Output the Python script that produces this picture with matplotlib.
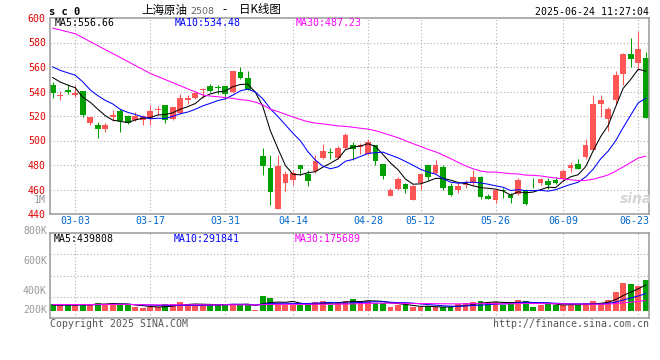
#!/usr/bin/env python3
import numpy as np
import pandas as pd
import matplotlib
matplotlib.use("Agg")
import matplotlib.pyplot as plt
from matplotlib import transforms

# ─── data ────────────────────────────────────────────────────────────────────
DATES = ["02-26", "02-27", "02-28",
         "03-03", "03-04", "03-05", "03-06", "03-07", "03-10", "03-11", "03-12", "03-13", "03-14",
         "03-17", "03-18", "03-19", "03-20", "03-21", "03-24", "03-25", "03-26", "03-27", "03-28",
         "03-31", "04-01", "04-02", "04-03", "04-07", "04-08", "04-09", "04-10", "04-11",
         "04-14", "04-15", "04-16", "04-17", "04-18", "04-21", "04-22", "04-23", "04-24", "04-25",
         "04-28", "04-29", "04-30", "05-06", "05-07", "05-08", "05-09",
         "05-12", "05-13", "05-14", "05-15", "05-16", "05-19", "05-20", "05-21", "05-22", "05-23",
         "05-26", "05-27", "05-28", "05-29", "05-30", "06-03", "06-04", "06-05", "06-06",
         "06-09", "06-10", "06-11", "06-12", "06-13", "06-16", "06-17", "06-18", "06-19", "06-20",
         "06-23", "06-24"]

OPEN = [545.0, 536.7, 541.6, 537.0, 540.0, 514.5, 513.0, 509.5, 519.0, 524.0,
        519.8, 516.5, 517.0, 518.0, 525.0, 528.8, 517.4, 522.5, 533.0, 534.8,
        541.6, 544.3, 543.2, 544.3, 539.7, 556.0, 551.0, 509.8, 487.0, 477.3,
        444.0, 465.6, 467.8, 479.8, 472.7, 475.0, 486.0, 490.7, 485.7, 494.2,
        496.0, 494.7, 489.3, 496.0, 480.6, 454.7, 460.4, 464.2, 451.2, 465.3,
        479.8, 473.8, 478.0, 462.6, 459.3, 463.4, 465.3, 470.0, 454.4, 451.2,
        459.3, 455.8, 456.6, 459.3, 463.0, 465.3, 466.7, 468.0, 468.3, 477.6,
        481.0, 486.6, 492.0, 530.2, 517.4, 533.0, 554.0, 571.0, 563.0, 567.5]
HIGH = [548.0, 540.2, 546.5, 545.0, 540.5, 519.5, 515.0, 514.0, 525.0, 525.5,
        521.0, 523.0, 520.6, 529.0, 528.0, 529.0, 527.0, 537.8, 537.0, 540.0,
        542.5, 546.0, 545.4, 544.5, 556.8, 559.6, 556.6, 509.8, 494.0, 488.0,
        488.5, 475.0, 475.7, 480.3, 475.7, 488.0, 497.0, 494.0, 495.3, 506.2,
        498.8, 498.3, 501.0, 496.5, 481.0, 461.0, 470.0, 465.0, 463.5, 473.0,
        480.3, 484.0, 480.3, 465.3, 465.0, 468.0, 475.7, 471.0, 456.6, 460.7,
        461.2, 457.4, 469.0, 460.7, 469.0, 469.7, 469.4, 470.0, 477.0, 482.5,
        485.0, 501.0, 537.0, 537.0, 527.0, 556.6, 571.2, 584.0, 589.5, 572.4]
LOW = [535.0, 533.4, 537.8, 535.5, 519.0, 512.5, 502.0, 507.0, 515.7, 507.0,
       513.8, 516.0, 512.4, 512.4, 520.6, 514.6, 517.0, 521.7, 530.0, 534.0,
       535.0, 539.7, 538.3, 534.2, 539.0, 550.6, 541.0, 509.8, 472.0, 447.6,
       443.8, 458.8, 464.0, 471.6, 463.0, 473.8, 484.7, 484.7, 484.7, 493.4,
       483.8, 489.3, 488.5, 480.3, 468.6, 454.7, 460.0, 457.0, 451.2, 459.3,
       467.5, 473.0, 460.0, 455.0, 457.2, 461.0, 463.4, 452.5, 452.0, 449.0,
       453.0, 449.0, 455.2, 447.0, 461.2, 463.4, 460.7, 464.8, 467.0, 474.3,
       476.5, 484.7, 492.0, 519.2, 508.0, 529.4, 545.0, 560.0, 557.4, 518.0]
CLOSE = [539.1, 537.5, 539.7, 539.0, 521.0, 519.0, 509.5, 512.7, 521.0, 515.7,
         514.6, 519.8, 519.8, 524.0, 526.0, 516.5, 527.0, 534.3, 534.5, 538.6,
         542.4, 540.2, 542.7, 537.8, 556.6, 551.4, 541.4, 509.8, 479.0, 458.0,
         479.0, 472.4, 473.8, 476.5, 467.0, 483.0, 491.2, 489.6, 494.2, 504.3,
         493.4, 496.1, 498.8, 483.3, 471.0, 459.3, 468.3, 460.4, 462.6, 472.4,
         470.0, 479.8, 461.0, 455.2, 462.6, 466.1, 470.0, 454.0, 452.2, 459.3,
         458.5, 453.0, 467.5, 448.0, 462.5, 468.3, 463.4, 465.3, 475.0, 479.8,
         476.8, 496.1, 530.2, 532.9, 525.5, 553.3, 571.0, 566.4, 574.6, 518.0]
# volume, thousands of lots
VOLUME = [117, 100, 102, 98, 119, 115, 139, 116, 137, 101,
          99, 61, 58, 62, 60, 118, 116, 156, 101, 99,
          100, 102, 118, 116, 119, 100, 117, 25, 246, 224,
          139, 101, 99, 102, 117, 156, 173, 100, 156, 173,
          207, 156, 173, 139, 139, 72, 100, 101, 60, 60,
          83, 60, 72, 72, 117, 139, 156, 173, 139, 156,
          100, 139, 190, 173, 72, 100, 139, 100, 100, 100,
          100, 139, 173, 139, 190, 326, 478, 456, 423, 516]

# closes / volumes before the visible window (only feed the moving averages)
PRIOR_CLOSE = [583, 585, 585, 618, 616, 607, 610, 618, 613, 612,
               617, 617, 621, 602, 592, 603, 610, 610, 614, 618,
               566, 560, 558, 575, 585, 556, 552, 550, 560]
PRIOR_VOLUME = [105, 120, 98, 112, 130, 95, 118, 125, 102, 110,
                135, 99, 108, 120, 115, 97, 126, 111, 104, 118,
                122, 100, 96, 114, 128, 107, 93, 101, 88]

TICK_LABELS = ["03-03", "03-17", "03-31", "04-14", "04-28", "05-12", "05-26", "06-09", "06-23"]
PRICE_TICKS = [440, 460, 480, 500, 520, 540, 560, 580, 600]
VOL_LABELS = ["800K", "600K", "400K", "200K"]
MA_WINDOWS = [5, 10, 30]
PRICE_LEGEND = ["MA5:556.66", "MA10:534.48", "MA30:487.23"]
VOL_LEGEND = ["MA5:439808", "MA10:291841", "MA30:175689"]

# ─── style ───────────────────────────────────────────────────────────────────
W, H = 660, 360
UP, DOWN = "#ff5555", "#00a000"
MA_COLORS = ["#000000", "#0000ff", "#ff00ff"]
GRID = dict(color="#b0b0b0", lw=0.8, ls=(0, (1, 2)))
MONO = "DejaVu Sans Mono"
CJK = ["Noto Sans CJK SC", "DejaVu Sans"]
FS = 7.1


def px(x, y):
    return x / W, 1 - y / H


fig = plt.figure(figsize=(W / 100, H / 100), dpi=100)
ax1 = fig.add_axes([50 / W, 1 - 214 / H, 599 / W, 196 / H])
ax2 = fig.add_axes([50 / W, 1 - 318 / H, 599 / W, 85 / H])

n = len(CLOSE)
x = np.arange(n)
o, hi, lo, c = map(np.array, (OPEN, HIGH, LOW, CLOSE))
cols = np.where(c >= o, UP, DOWN)
xlim = (-0.36, n - 1 + 0.44)
tick_idx = [DATES.index(t) for t in TICK_LABELS]

# ─── price panel ─────────────────────────────────────────────────────────────
ax1.set_xlim(*xlim)
ax1.set_ylim(PRICE_TICKS[0], PRICE_TICKS[-1])
for v in PRICE_TICKS[1:-1]:
    ax1.axhline(v, zorder=0, **GRID)
for i in tick_idx:
    ax1.axvline(i, zorder=0, **GRID)

ax1.vlines(x, lo, hi, colors=cols, lw=0.75, zorder=2)
ax1.bar(x, np.maximum(np.abs(c - o), 0.6), bottom=np.minimum(o, c),
        width=0.76, color=cols, linewidth=0, zorder=2)

all_close = pd.Series(PRIOR_CLOSE + CLOSE, dtype=float)
for w, col in zip(MA_WINDOWS, MA_COLORS):
    ma = all_close.rolling(w).mean().to_numpy()[len(PRIOR_CLOSE):]
    ax1.plot(x, ma, color=col, lw=0.75, zorder=3)

ax1.set_xticks([])
ax1.set_yticks(PRICE_TICKS)
ax1.set_yticklabels([str(v) for v in PRICE_TICKS], color="#e00000",
                    fontfamily=MONO, fontsize=FS)
ax1.tick_params(axis="y", length=0, pad=3)

# date labels under the price panel
tr = transforms.blended_transform_factory(ax1.transData, fig.transFigure)
for k, (i, lbl) in enumerate(zip(tick_idx, TICK_LABELS)):
    if k == len(TICK_LABELS) - 1:
        ax1.text(xlim[1], 1 - 221.5 / H, lbl, transform=tr, ha="right", va="center",
                 color="#0066cc", fontfamily=MONO, fontsize=FS, clip_on=False)
    else:
        ax1.text(i, 1 - 221.5 / H, lbl, transform=tr, ha="center", va="center",
                 color="#0066cc", fontfamily=MONO, fontsize=FS, clip_on=False)

# ─── volume panel ────────────────────────────────────────────────────────────
K = 16.9  # thousand lots per pixel
vlo, vhi = -7 * K, 78 * K
ax2.set_xlim(*xlim)
ax2.set_ylim(vlo, vhi)
for f in (0.25, 0.5, 0.75):
    ax2.axhline(vlo + f * (vhi - vlo), zorder=0, **GRID)
for i in tick_idx:
    ax2.axvline(i, zorder=0, **GRID)

ax2.bar(x, VOLUME, width=0.78, color=cols, linewidth=0, zorder=2)
all_vol = pd.Series(PRIOR_VOLUME + VOLUME, dtype=float)
for w, col in zip(MA_WINDOWS, MA_COLORS):
    ma = all_vol.rolling(w).mean().to_numpy()[len(PRIOR_VOLUME):]
    ax2.plot(x, ma, color=col, lw=0.75, zorder=3)
ax2.set_xticks([])
ax2.set_yticks([])

for ax in (ax1, ax2):
    for s in ax.spines.values():
        s.set_color("#999999")
        s.set_linewidth(1.1)

# ─── texts ───────────────────────────────────────────────────────────────────
fig.text(*px(49, 12), "s c 0", fontfamily=MONO, fontweight="bold", fontsize=7.5,
         va="center", ha="left")
fig.text(*px(141, 10), "上海原油", family=CJK, fontsize=8.3, va="center", ha="left")
fig.text(*px(190, 11), "2508", fontfamily="DejaVu Sans", fontsize=6.8, color="#666666",
         va="center", ha="left")
fig.text(*px(222, 10), "-", family=CJK, fontsize=8.3, va="center", ha="left")
fig.text(*px(239, 10), "日K线图", family=CJK, fontsize=8.3, va="center", ha="left")
fig.text(*px(649, 12), "2025-06-24 11:27:04", fontfamily=MONO, fontsize=FS,
         va="center", ha="right")

for xp, lbl, col in zip((55, 175, 296), PRICE_LEGEND, MA_COLORS):
    fig.text(*px(xp, 23), lbl, fontfamily=MONO, fontsize=FS, color=col, va="center")
for xp, lbl, col in zip((54, 174, 295), VOL_LEGEND, MA_COLORS):
    fig.text(*px(xp, 238.5), lbl, fontfamily=MONO, fontsize=FS, color=col, va="center")

fig.text(*px(46, 200), "1M", fontfamily=MONO, fontsize=FS, color="#999999",
         va="center", ha="right")
for yp, lbl in zip((231, 261, 290.5, 310), VOL_LABELS):
    fig.text(*px(47, yp), lbl, fontfamily=MONO, fontsize=FS, color="#999999",
             va="center", ha="right")

fig.text(*px(50, 324), "Copyright 2025 SINA.COM", fontfamily=MONO, fontsize=FS,
         color="#555555", va="center", ha="left")
fig.text(*px(649, 324), "http://finance.sina.com.cn", fontfamily=MONO, fontsize=FS,
         color="#555555", va="center", ha="right")
fig.text(*px(636, 199), "sina", fontfamily="DejaVu Sans", fontsize=10, fontweight="bold",
         style="italic", color="#d4d4d4", va="center", ha="center", zorder=1)

fig.savefig("out.png", dpi=100)
